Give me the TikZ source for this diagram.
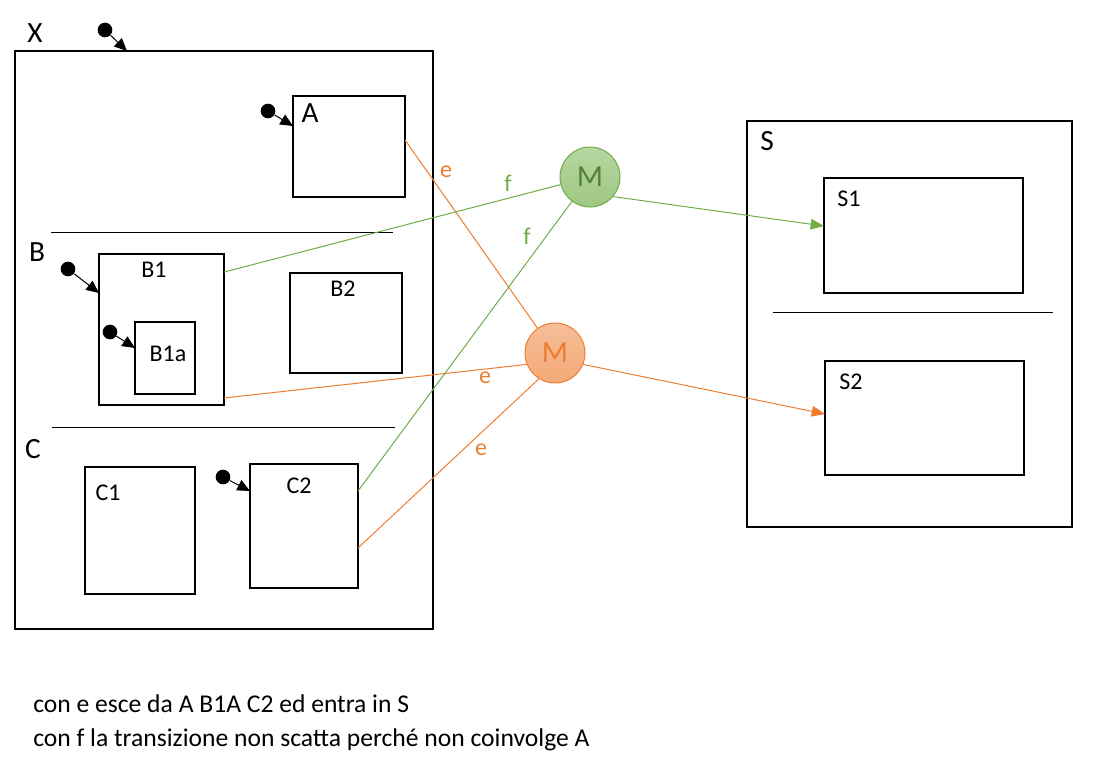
\documentclass[tikz,border=0pt]{standalone}
\usepackage{fontspec}
\setmainfont{Carlito}
\usetikzlibrary{arrows.meta}
\definecolor{mgreen}{HTML}{70AD47}
\definecolor{mdarkgreen}{HTML}{548235}
\definecolor{morange}{HTML}{ED7D31}
\tikzset{
	statebox/.style={draw, line width=1.5pt, inner sep=0pt, outer sep=0pt},
	biglabel/.style={font=\fontsize{22}{26}\selectfont, inner sep=0pt},
	smalllabel/.style={font=\fontsize{18}{22}\selectfont, inner sep=0pt},
	initdot/.style={circle, fill=black, minimum size=11pt, inner sep=0pt},
	initarrow/.style={-{Triangle[length=9.5pt,width=8.5pt]}, line width=0.75pt},
	sepline/.style={line width=0.75pt},
	mnode/.style={circle, minimum size=45pt, inner sep=0pt, line width=0.75pt, font=\fontsize{23}{27}\selectfont},
}
\begin{document}
\begin{tikzpicture}[x=0.75pt, y=-0.75pt]
			\useasboundingbox (0,0) rectangle (1110,765);
			
			% Draw the outer state X and its regions
			\node[statebox, minimum width=313.5pt, minimum height=433.5pt] (X) at (224,340) {};
			\node[biglabel] (Xl) at (35,33) {X};
			\draw[sepline] (51,232) -- (393,232);
			\draw[sepline] (52,427) -- (395,427);
			
			% Region with A
			\node[statebox, minimum width=84pt, minimum height=75.75pt] (A) at (349,146.5) {};
			\node[biglabel] (Al) at (310,113) {A};
			
			% Region B
			\node[biglabel] (Bl) at (37,252) {B};
			\node[statebox, minimum width=93.75pt, minimum height=113.25pt] (B1) at (161.5,329.5) {};
			\node[smalllabel] (B1l) at (154,270) {B1};
			\node[statebox, minimum width=45pt, minimum height=54pt] (B1a) at (165,358) {};
			\node[smalllabel] (B1al) at (168,354) {B1a};
			\node[statebox, minimum width=84pt, minimum height=75pt] (B2) at (346,323) {};
			\node[smalllabel] (B2l) at (343,289) {B2};
			
			% Region C
			\node[biglabel] (Cl) at (33,449) {C};
			\node[statebox, minimum width=82.5pt, minimum height=95.25pt] (C1) at (140,530.5) {};
			\node[smalllabel] (C1l) at (108,493) {C1};
			\node[statebox, minimum width=81pt, minimum height=93pt] (C2) at (304,526) {};
			\node[smalllabel] (C2l) at (299,486) {C2};
			
			% Draw the target state S
			\node[statebox, minimum width=243.75pt, minimum height=304.5pt] (S) at (909.5,324) {};
			\node[biglabel] (Sl) at (767,141) {S};
			\node[statebox, minimum width=149.25pt, minimum height=86.25pt] (S1) at (923.5,235.5) {};
			\node[smalllabel] (S1l) at (849,199) {S1};
			\draw[sepline] (773,312) -- (1053,312);
			\node[statebox, minimum width=149.25pt, minimum height=85.5pt] (S2) at (924.5,418) {};
			\node[smalllabel] (S2l) at (851,382) {S2};
			
			% Initial pseudostates
			\node[initdot] (X0) at (105,30) {};
			\node[initdot] (A0) at (268,111) {};
			\node[initdot] (B0) at (68,269) {};
			\node[initdot] (B1a0) at (110,332) {};
			\node[initdot] (C20) at (223,477) {};
			\draw[initarrow] (X0) -- ([xshift=84pt]X.north west);
			\draw[initarrow] (A0) -- ([yshift=-22.5pt]A.north west);
			\draw[initarrow] (B0) -- ([yshift=-29.25pt]B1.north west);
			\draw[initarrow] (B1a0) -- ([yshift=-19.5pt]B1a.north west);
			\draw[initarrow] (C20) -- ([yshift=-20.25pt]C2.north west);
			
			% Draw the two merge points
			\node[mnode, draw=mgreen, top color=mgreen!50, bottom color=mgreen!68, text=mdarkgreen] (Mg) at (590,177) {M};
			\node[mnode, draw=morange, top color=morange!50, bottom color=morange!66, text=morange] (Mo) at (555,353) {M};
			
			% Transitions on e
			\draw[morange, line width=0.75pt] ([yshift=4.9pt]A.east) -- (Mo);
			\draw[morange, line width=0.75pt] ([yshift=-51.4pt]B1.east) -- (Mo.202);
			\draw[morange, line width=0.75pt] ([yshift=-16.5pt]C2.east) -- (Mo.238);
			\draw[morange, line width=0.75pt, -{Triangle[length=10pt,width=8pt]}] (Mo.-22) -- ([yshift=3pt]S2.west);
			\node[smalllabel, text=morange] (e1) at (446,172) {e};
			\node[smalllabel, text=morange] (e2) at (485,378) {e};
			\node[smalllabel, text=morange] (e3) at (481,450) {e};
			
			% Transitions on f
			\draw[mgreen, line width=0.75pt] ([yshift=43.1pt]B1.east) -- (Mg);
			\draw[mgreen, line width=0.75pt] ([yshift=26.25pt]C2.east) -- (Mg);
			\draw[mgreen, line width=0.75pt, -{Triangle[length=10pt,width=8pt]}] (Mg.-40) -- ([yshift=7.1pt]S1.west);
			\node[smalllabel, text=mgreen] (f1) at (508,183) {f};
			\node[smalllabel, text=mgreen] (f2) at (527,236) {f};
			
			% Note below the diagram
			\node[anchor=north west, align=left, inner sep=0pt, font=\fontsize{19.2}{25.5}\selectfont] (note) at (33,694) {con e esce da A B1A C2 ed entra in S\\con f la transizione non scatta perché non coinvolge A};
		\end{tikzpicture}
\end{document}
